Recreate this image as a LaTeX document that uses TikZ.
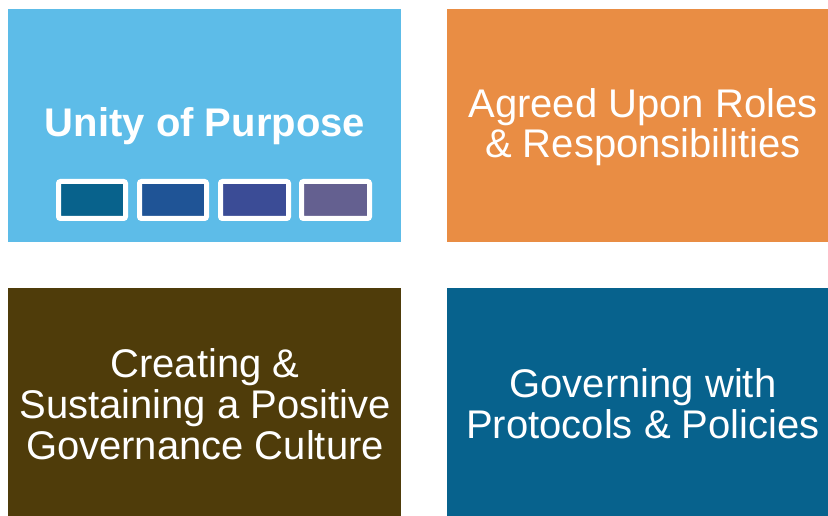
\documentclass[tikz,border=0pt]{standalone}
\usepackage{fontspec}
\setmainfont{Liberation Sans}
\definecolor{cblue}{HTML}{5DBCE8}
\definecolor{corange}{HTML}{E98D44}
\definecolor{cbrown}{HTML}{4F3C0A}
\definecolor{cteal}{HTML}{07628D}
\definecolor{sA}{HTML}{08628C}
\definecolor{sB}{HTML}{1F5496}
\definecolor{sC}{HTML}{3B4C96}
\definecolor{sD}{HTML}{646090}
\tikzset{
  label/.style={text=white, align=center, font=\fontsize{40}{41}\selectfont},
  swatch/.style={draw=white, line width=5pt, rounded corners=2pt},
}
\begin{document}
\begin{tikzpicture}[x=1pt,y=-1pt]
\useasboundingbox (0,0) rectangle (828,516);
\clip (0,0) rectangle (828,516);
\fill[white] (0,0) rectangle (828,516);
\fill[cblue] (8,9) rectangle (401,242);
\fill[corange] (447,9) rectangle (840,242);
\fill[cbrown] (8,288) rectangle (401,521);
\fill[cteal] (447,288) rectangle (840,521);
\node[label, font=\fontsize{40}{41}\selectfont\bfseries] (t1) at (205,126) {Unity of Purpose};
\node[label, font=\fontsize{40}{39.5}\selectfont] (t2) at (643,127) {Agreed Upon Roles\\\& Responsibilities};
\node[label] (t3) at (205,404) {Creating \&\\Sustaining a Positive\\Governance Culture};
\node[label] (t4) at (643,404) {Governing with\\Protocols \& Policies};
\filldraw[swatch, fill=sA] (58.5,181.5) rectangle (125.5,218.5);
\filldraw[swatch, fill=sB] (139.5,181.5) rectangle (206.5,218.5);
\filldraw[swatch, fill=sC] (220.5,181.5) rectangle (288.5,218.5);
\filldraw[swatch, fill=sD] (301.5,181.5) rectangle (369.5,218.5);
\end{tikzpicture}
\end{document}
